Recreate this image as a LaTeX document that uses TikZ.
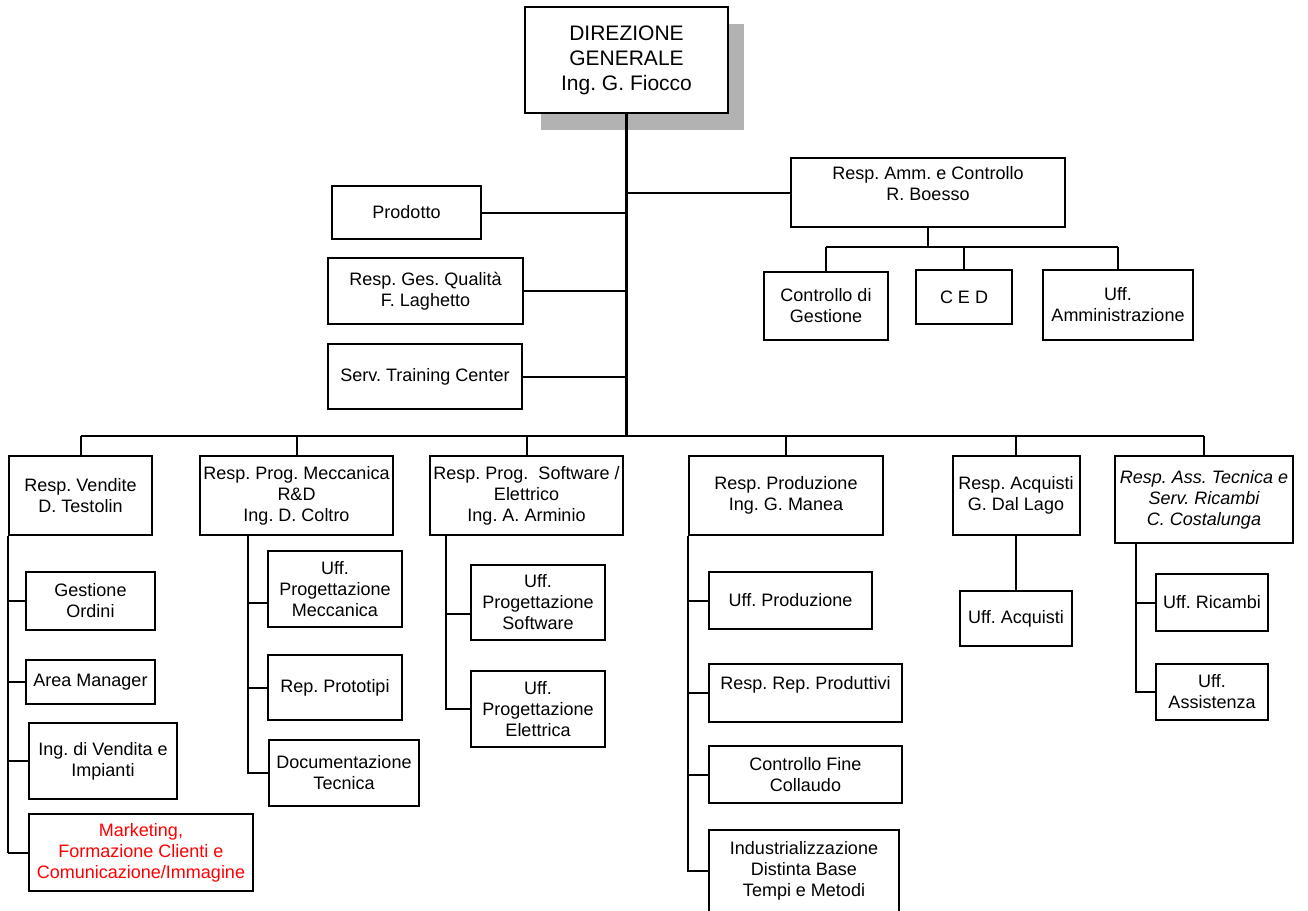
\documentclass[tikz,border=0pt]{standalone}
\usepackage{fontspec}
\setmainfont{Liberation Sans}
\usetikzlibrary{positioning}
\frenchspacing

\begin{document}
\begin{tikzpicture}[x=1pt,y=-1pt,
    box/.style={draw,line width=2pt,fill=white,align=center,inner sep=0pt,
                font=\fontsize{18}{21}\selectfont},
    link/.style={line width=2pt},
    bus/.style={line width=2.5pt},
    trunk/.style={line width=3.5pt}]
  \useasboundingbox (0,0) rectangle (1308,910);

  % top of the tree
  \fill[black!30] (541,24) rectangle (744,130);
  \path (626.5,60) node[box,minimum width=203,minimum height=106,
                        font=\fontsize{21}{25}\selectfont] (dir)
        {DIREZIONE\\GENERALE\\Ing. G. Fiocco};

  % staff
  \path (406.5,212.5) node[box,minimum width=149,minimum height=53] (prod)  {Prodotto}
        (425.5,291)   node[box,minimum width=195,minimum height=66] (qual)  {Resp. Ges. Qualit\`a\\F. Laghetto}
        (425,376.5)   node[box,minimum width=194,minimum height=65] (train) {Serv. Training Center}
        (928,192.5)   node[box,minimum width=274,minimum height=69] (amm)   {Resp. Amm. e Controllo\\R. Boesso\\[-2pt]\mbox{}};

  \path (826,306)   node[box,minimum width=124,minimum height=68] (cdg)  {Controllo di\\Gestione}
        (964,297)   node[box,minimum width=96, minimum height=54] (ced)  {C E D}
        (1118,305)  node[box,minimum width=150,minimum height=70] (uamm) {Uff.\\Amministrazione};

  % first level
  \path (80.5,495.5) node[box,minimum width=143,minimum height=79] (vend)  {Resp. Vendite\\D. Testolin}
        (296.5,495.5) node[box,minimum width=193,minimum height=79] (mecc)  {Resp. Prog. Meccanica\\R\&D\\Ing. D. Coltro}
        (526.5,495.5) node[box,minimum width=193,minimum height=79] (soft)  {Resp. Prog.\ \ Software /\\Elettrico\\Ing. A. Arminio}
        (786,495.5)   node[box,minimum width=194,minimum height=79] (prodz) {Resp. Produzione\\Ing. G. Manea}
        (1016,495.5)  node[box,minimum width=127,minimum height=79] (acq)   {Resp. Acquisti\\G. Dal Lago}
        (1204,499.5)  node[box,minimum width=178,minimum height=87,
                           font=\fontsize{18}{21}\selectfont\itshape] (ass)
                      {Resp. Ass. Tecnica e\\Serv. Ricambi\\C. Costalunga};

  % vendite
  \path (90.5,601)  node[box,minimum width=129,minimum height=58] (ord)  {Gestione\\Ordini}
        (90.5,682)  node[box,minimum width=129,minimum height=44] (area) {Area Manager}
        (103,761)   node[box,minimum width=148,minimum height=76] (ingv) {Ing. di Vendita e\\Impianti}
        (141,852.5) node[box,minimum width=224,minimum height=77,text=red] (mkt)
                    {Marketing,\\Formazione Clienti e\\Comunicazione/Immagine};

  % meccanica
  \path (335,589)   node[box,minimum width=134,minimum height=76] (upm)  {Uff.\\Progettazione\\Meccanica}
        (335,687.5) node[box,minimum width=134,minimum height=65] (prot) {Rep. Prototipi}
        (344,773)   node[box,minimum width=150,minimum height=66] (doc)  {Documentazione\\Tecnica};

  % software / elettrico
  \path (538,602.5) node[box,minimum width=134,minimum height=75] (ups) {Uff.\\Progettazione\\Software}
        (538,709)   node[box,minimum width=134,minimum height=76] (upe) {Uff.\\Progettazione\\Elettrica};

  % produzione
  \path (790.5,600.5) node[box,minimum width=163,minimum height=57] (uprod) {Uff. Produzione}
        (805.5,693)   node[box,minimum width=193,minimum height=58] (rrp)   {Resp. Rep. Produttivi\\\mbox{}}
        (805.5,774.5) node[box,minimum width=193,minimum height=57] (cfc)   {Controllo Fine\\Collaudo}
        (804,871)     node[box,minimum width=190,minimum height=82] (ind)
                      {Industrializzazione\\Distinta Base\\Tempi e Metodi};

  % acquisti, assistenza
  \path (1016,618.5) node[box,minimum width=112,minimum height=55] (uacq) {Uff. Acquisti}
        (1212,602.5) node[box,minimum width=112,minimum height=57] (uric) {Uff. Ricambi}
        (1212,692)   node[box,minimum width=112,minimum height=56] (uass) {Uff.\\Assistenza};

  % trunk and buses
  \coordinate (hub) at (626.5,436);
  \draw[trunk] (dir.south) -- (hub);
  \draw[bus] (vend.north |- hub) -- (ass.north |- hub);
  \foreach \n in {vend,mecc,soft,prodz,acq,ass}
    \draw[link] (\n.north |- hub) -- (\n.north);

  \foreach \n in {prod,qual,train}
    \draw[link] (\n.east) -- (\n.east -| hub);
  \draw[link] (amm.west) -- (amm.west -| hub);

  \coordinate (ammhub) at (928,247);
  \draw[link] (amm.south) -- (ammhub);
  \draw[link] (cdg.north |- ammhub) -- (uamm.north |- ammhub);
  \foreach \n in {cdg,ced,uamm}
    \draw[link] (\n.north |- ammhub) -- (\n.north);

  % rails down the columns
  \draw[link] (vend.south west) -- (vend.south west |- mkt.west);
  \foreach \n in {ord,area,ingv,mkt}
    \draw[link] (vend.south west |- \n.west) -- (\n.west);

  \coordinate (meccrail) at (248,535);
  \draw[link] (meccrail) |- (doc.west);
  \draw[link] (meccrail |- 0,603) -- (upm.west |- 0,603);
  \draw[link] (meccrail |- prot.west) -- (prot.west);

  \coordinate (softrail) at (446,535);
  \draw[link] (softrail) |- (upe.west);
  \draw[link] (softrail |- 0,614) -- (ups.west |- 0,614);

  \draw[link] (prodz.south west) |- (ind.west);
  \foreach \n in {uprod,rrp,cfc}
    \draw[link] (prodz.south west |- \n.west) -- (\n.west);

  \draw[link] (acq.south) -- (uacq.north);

  \coordinate (assrail) at (1136,543);
  \draw[link] (assrail) |- (uass.west);
  \draw[link] (assrail |- uric.west) -- (uric.west);
\end{tikzpicture}
\end{document}
